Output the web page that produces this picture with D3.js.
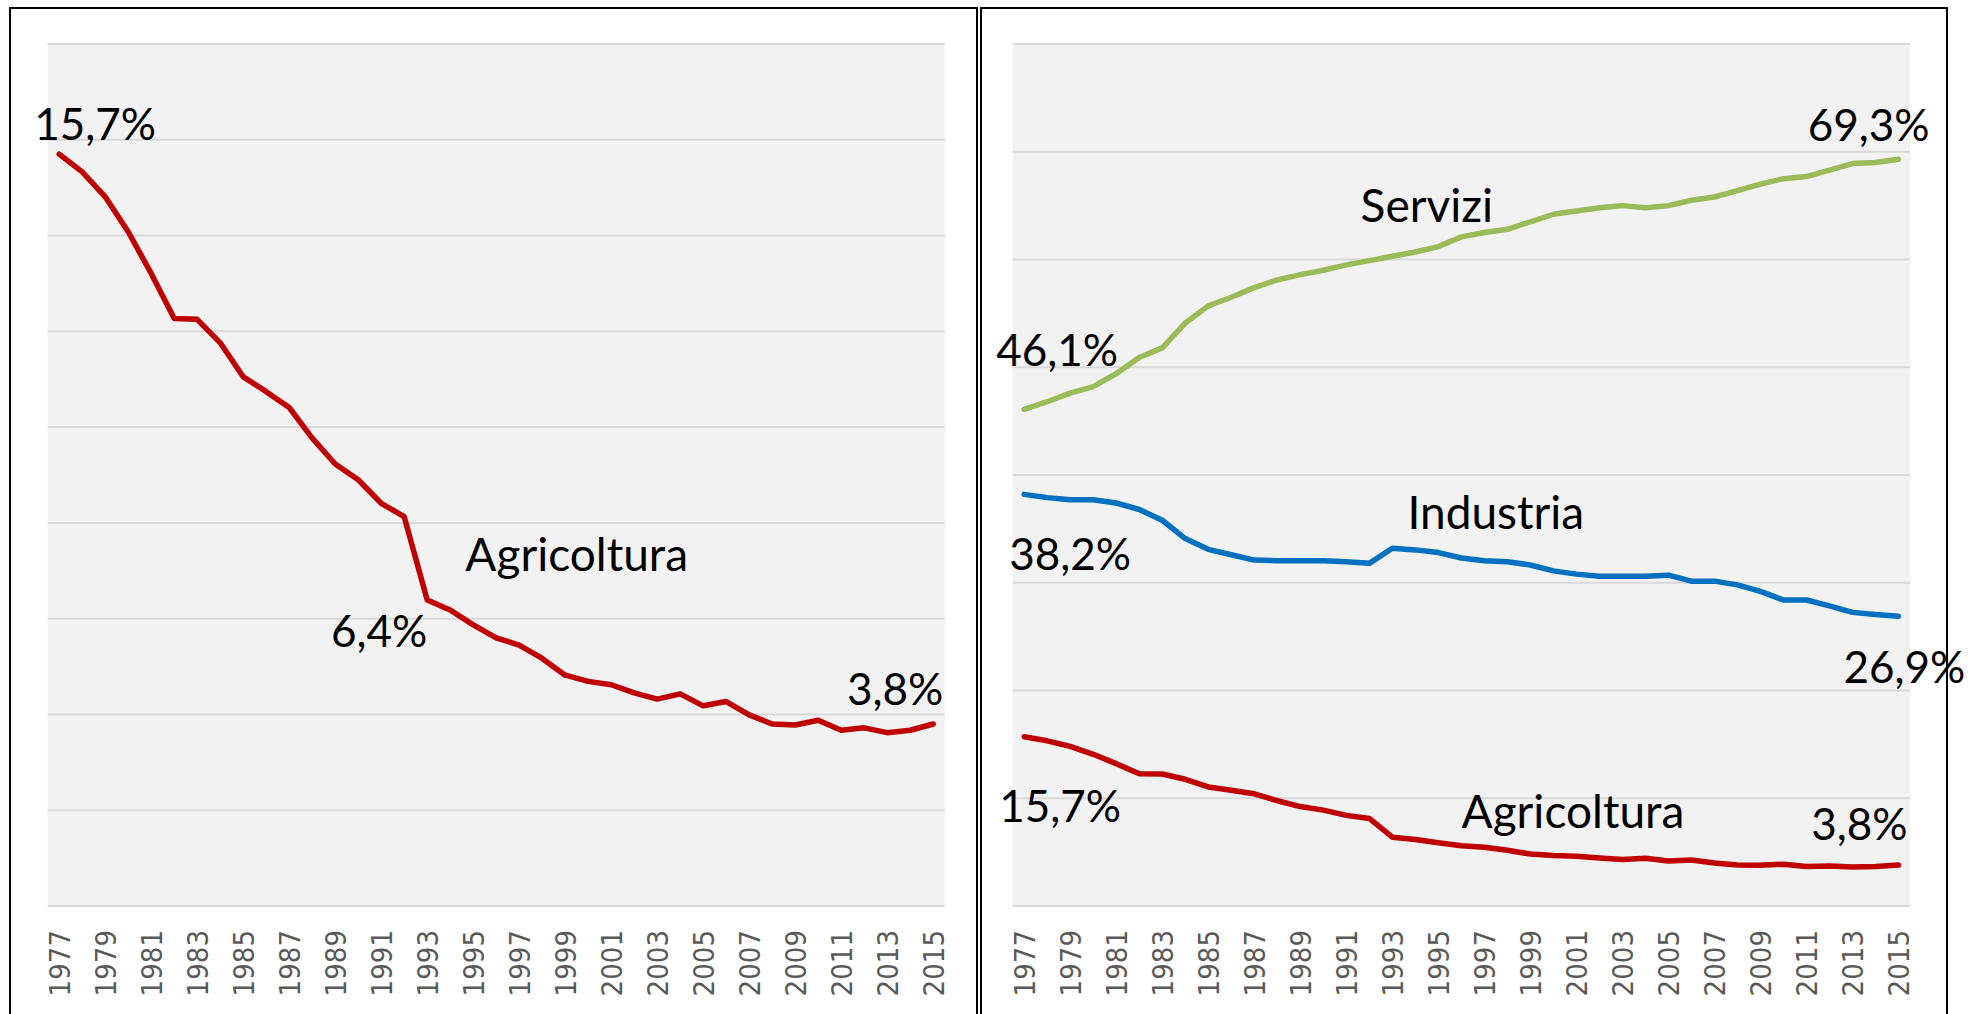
<!DOCTYPE html>
<html>
<head>
<meta charset="utf-8">
<script src="https://cdn.jsdelivr.net/npm/d3@7"></script>
<style>
    body { margin: 0; background: #fff; }
    svg { display: block; }
</style>
</head>
<body>
<div id="chart"></div>
<script>
// anni (categorie)
const years = [1977, 1978, 1979, 1980, 1981, 1982, 1983, 1984, 1985, 1986,
    1987, 1988, 1989, 1990, 1991, 1992, 1993, 1994, 1995, 1996,
    1997, 1998, 1999, 2000, 2001, 2002, 2003, 2004, 2005, 2006,
    2007, 2008, 2009, 2010, 2011, 2012, 2013, 2014, 2015];
const tickYears = [1977, 1979, 1981, 1983, 1985, 1987, 1989, 1991, 1993, 1995,
    1997, 1999, 2001, 2003, 2005, 2007, 2009, 2011, 2013, 2015];

// quote di occupati per settore (%)
const agricoltura = [15.7, 15.33, 14.81, 14.08, 13.21, 12.27, 12.25, 11.76, 11.05, 10.74,
    10.41, 9.77, 9.23, 8.9, 8.41, 8.13, 6.39, 6.18, 5.87, 5.6,
    5.45, 5.17, 4.82, 4.69, 4.62, 4.45, 4.32, 4.43, 4.18, 4.27,
    3.99, 3.8, 3.78, 3.88, 3.67, 3.72, 3.62, 3.67, 3.8];
const industria = [38.2, 37.9, 37.7, 37.7, 37.4, 36.8, 35.8, 34.1, 33.1, 32.6,
    32.1, 32.05, 32.05, 32.05, 31.95, 31.8, 33.2, 33.05, 32.8, 32.3,
    32.05, 31.95, 31.65, 31.1, 30.8, 30.6, 30.6, 30.6, 30.7, 30.15,
    30.15, 29.8, 29.2, 28.4, 28.4, 27.85, 27.25, 27.05, 26.9];
const servizi = [46.1, 46.8, 47.6, 48.2, 49.4, 50.9, 51.8, 54.1, 55.7, 56.5,
    57.4, 58.1, 58.6, 59.0, 59.5, 59.9, 60.3, 60.7, 61.2, 62.1,
    62.5, 62.8, 63.5, 64.2, 64.5, 64.8, 65.0, 64.8, 65.0, 65.5,
    65.8, 66.4, 67.0, 67.5, 67.7, 68.3, 68.9, 69.0, 69.3];

const leftTicks = [0, 2, 4, 6, 8, 10, 12, 14, 16, 18];
const rightTicks = [0, 10, 20, 30, 40, 50, 60, 70, 80];

const COLORS = { agricoltura: '#C00000', industria: '#0070C0', servizi: '#9BBB59' };
const LABEL_FONT = 'Lato, "Open Sans", sans-serif';

const svg = d3.select('#chart')
    .append('svg')
    .attr('width', 1980)
    .attr('height', 1014);

function drawPanel(cfg) {
    const g = svg.append('g');

    // cornice
    g.append('rect')
        .attr('x', cfg.frame[0])
        .attr('y', 8)
        .attr('width', cfg.frame[1] - cfg.frame[0])
        .attr('height', 1040)
        .attr('fill', '#fff')
        .attr('stroke', '#000')
        .attr('stroke-width', 2);

    const x = d3.scaleLinear()
        .domain([years[0] - 0.5, years[years.length - 1] + 0.5])
        .range([cfg.left, cfg.right]);
    const y = d3.scaleLinear()
        .domain([0, cfg.ticks[cfg.ticks.length - 1]])
        .range([906, 44]);

    g.append('rect')
        .attr('x', cfg.left)
        .attr('y', y.range()[1])
        .attr('width', cfg.right - cfg.left)
        .attr('height', y.range()[0] - y.range()[1])
        .attr('fill', '#F2F2F2');

    g.selectAll('.grid')
        .data(cfg.ticks)
        .enter()
        .append('line')
        .attr('x1', cfg.left)
        .attr('x2', cfg.right)
        .attr('y1', (d) => y(d))
        .attr('y2', (d) => y(d))
        .attr('stroke', '#D9D9D9')
        .attr('stroke-width', 2);

    const xAxis = g.append('g')
        .attr('transform', `translate(0, ${y(0)})`)
        .call(d3.axisBottom(x).tickValues(tickYears).tickSize(0).tickFormat(d3.format('d')));
    xAxis.select('.domain').remove();
    xAxis.selectAll('.tick text')
        .attr('transform', 'rotate(-90)')
        .attr('x', -24)
        .attr('y', 0)
        .attr('dy', '0.36em')
        .attr('text-anchor', 'end')
        .style('font-family', '"DejaVu Sans Condensed", "DejaVu Sans", sans-serif')
        .style('font-stretch', 'condensed')
        .style('font-size', '29px')
        .style('fill', '#595959');

    const line = d3.line()
        .x((d, i) => x(years[i]))
        .y((d) => y(d));

    cfg.series.forEach((s) => {
        g.append('path')
            .datum(s.values)
            .attr('d', line)
            .attr('fill', 'none')
            .attr('stroke', s.color)
            .attr('stroke-width', 5.5)
            .attr('stroke-linejoin', 'round')
            .attr('stroke-linecap', 'round');
    });

    // etichette dei valori e nomi delle serie
    cfg.labels.forEach((l) => {
        g.append('text')
            .attr('x', x(l.year) + (l.dx || 0))
            .attr('y', y(l.value) + (l.dy || 0))
            .attr('text-anchor', l.anchor)
            .style('font-family', LABEL_FONT)
            .style('font-size', l.anchor === 'middle' ? '46px' : '44px')
            .style('fill', '#000')
            .text(l.text);
    });
}

drawPanel({
    frame: [10, 977],
    left: 47.7,
    right: 944.7,
    ticks: leftTicks,
    series: [{ values: agricoltura, color: COLORS.agricoltura }],
    labels: [
        { text: '15,7%', year: 1977, value: agricoltura[0], dx: -25, dy: -14, anchor: 'start' },
        { text: '6,4%', year: 1993, value: agricoltura[16], dx: 0, dy: 47, anchor: 'end' },
        { text: '3,8%', year: 2015, value: agricoltura[38], dx: 10, dy: -19, anchor: 'end' },
        { text: 'Agricoltura', year: 1999.5, value: 7.0, anchor: 'middle' }
    ]
});

drawPanel({
    frame: [981, 1947],
    left: 1012.7,
    right: 1910,
    ticks: rightTicks,
    series: [
        { values: servizi, color: COLORS.servizi },
        { values: industria, color: COLORS.industria },
        { values: agricoltura, color: COLORS.agricoltura }
    ],
    labels: [
        { text: '46,1%', year: 1977, value: servizi[0], dx: -28, dy: -43, anchor: 'start' },
        { text: '69,3%', year: 2015, value: servizi[38], dx: 31, dy: -18, anchor: 'end' },
        { text: 'Servizi', year: 1994.5, value: 63.5, anchor: 'middle' },
        { text: '38,2%', year: 1977, value: industria[0], dx: -15, dy: 76, anchor: 'start' },
        { text: '26,9%', year: 2015, value: industria[38], dx: -55, dy: 67, anchor: 'start' },
        { text: 'Industria', year: 1997.5, value: 35.0, anchor: 'middle' },
        { text: '15,7%', year: 1977, value: agricoltura[0], dx: -25, dy: 85, anchor: 'start' },
        { text: '3,8%', year: 2015, value: agricoltura[38], dx: 9, dy: -25, anchor: 'end' },
        { text: 'Agricoltura', year: 2000.85, value: 7.24, anchor: 'middle' }
    ]
});
</script>
</body>
</html>
